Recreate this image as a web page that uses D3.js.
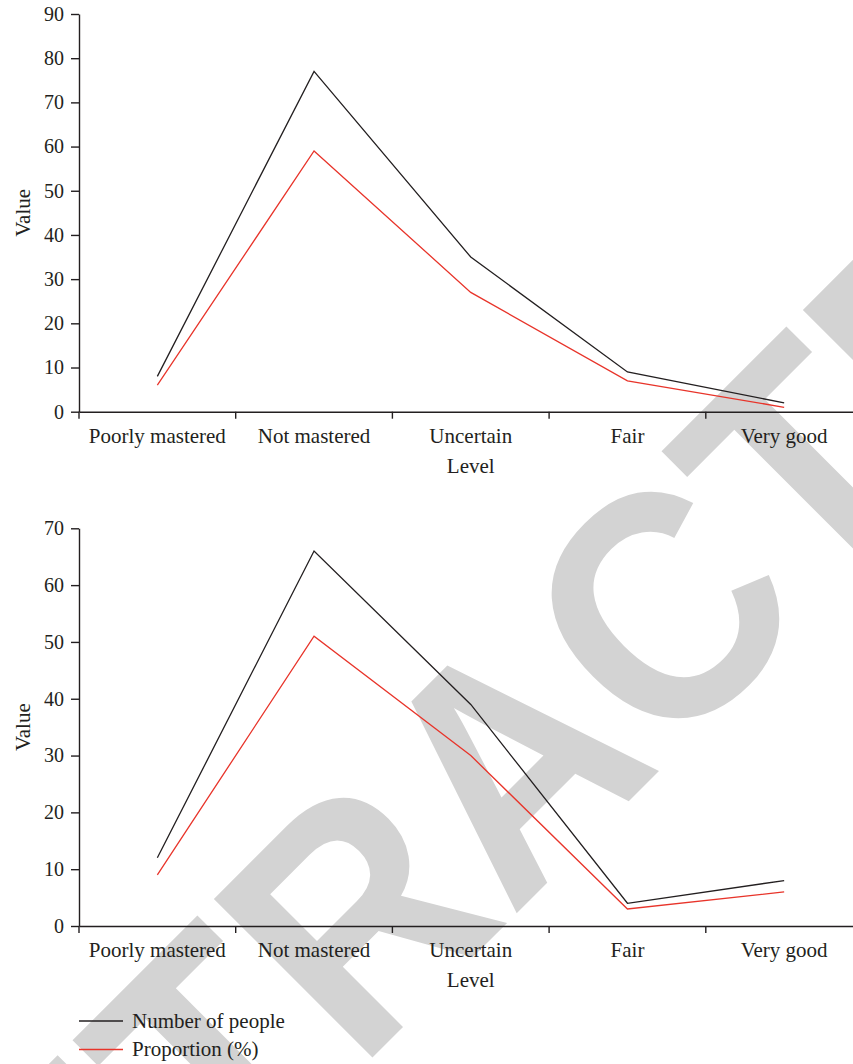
<!DOCTYPE html>
<html>
<head>
<meta charset="utf-8">
<script src="https://cdn.jsdelivr.net/npm/d3@7"></script>
<style>
  html, body { margin: 0; padding: 0; background: #fff; }
  svg { display: block; }
</style>
</head>
<body>
<svg id="chart" width="853" height="1064"></svg>
<script>
// Knowledge levels on the x axis
const categories = ["Poorly mastered", "Not mastered", "Uncertain", "Fair", "Very good"];

// Upper panel
const peopleTop = [8, 77, 35, 9, 2];
const proportionTop = [6, 59, 27, 7, 1];
const yTicksTop = [0, 10, 20, 30, 40, 50, 60, 70, 80, 90];

// Lower panel
const peopleBottom = [12, 66, 39, 4, 8];
const proportionBottom = [9, 51, 30, 3, 6];
const yTicksBottom = [0, 10, 20, 30, 40, 50, 60, 70];

const seriesNames = ["Number of people", "Proportion (%)"];
const seriesColors = ["#231f20", "#e8342a"];

const svg = d3.select("#chart");
const FONT = "'Liberation Serif', 'Times New Roman', serif";
const INK = "#231f20";
const WORD_SIZE = 21;
const DIGIT_SIZE = 20;

// Stamp drawn beneath the charts
svg.append("text")
  .attr("transform", "translate(588,842) rotate(-45) scale(0.92,1)")
  .attr("text-anchor", "middle")
  .attr("font-family", "'Liberation Sans', Arial, sans-serif")
  .attr("font-weight", "bold")
  .attr("font-size", 326)
  .attr("fill", "#d3d3d3")
  .text("RETRACTED");

function panel(opts) {
  const { x0, x1, yBottom, yTop, ymax, ticks, people, proportion } = opts;
  const g = svg.append("g");

  const x = d3.scaleBand().domain(categories).range([x0, x1]).padding(0);
  const y = d3.scaleLinear().domain([0, ymax]).range([yBottom, yTop]);

  // y axis
  const yAxis = g.append("g")
    .attr("transform", `translate(${x0},0)`)
    .call(d3.axisLeft(y).tickValues(ticks).tickSize(8).tickSizeOuter(0).tickPadding(7));
  yAxis.select(".domain").attr("stroke", INK).attr("stroke-width", 1.4);
  yAxis.selectAll(".tick line").attr("stroke", INK).attr("stroke-width", 1.4);
  yAxis.selectAll(".tick text")
    .attr("font-family", FONT).attr("font-size", DIGIT_SIZE).attr("fill", INK);

  // x axis: labels at band centres, tick marks at band boundaries
  const xAxis = g.append("g")
    .attr("transform", `translate(0,${yBottom})`)
    .call(d3.axisBottom(x).tickSize(0).tickSizeOuter(0).tickPadding(16));
  xAxis.select(".domain").attr("stroke", INK).attr("stroke-width", 1.4);
  xAxis.selectAll(".tick text")
    .attr("font-family", FONT).attr("font-size", WORD_SIZE).attr("fill", INK);
  xAxis.selectAll("line.band-tick")
    .data(categories)
    .join("line")
    .attr("class", "band-tick")
    .attr("x1", d => x(d)).attr("x2", d => x(d))
    .attr("y1", 0).attr("y2", 7)
    .attr("stroke", INK).attr("stroke-width", 1.4);

  // axis titles
  g.append("text")
    .attr("x", (x0 + x1) / 2)
    .attr("y", yBottom + 61)
    .attr("text-anchor", "middle")
    .attr("font-family", FONT).attr("font-size", WORD_SIZE).attr("fill", INK)
    .text("Level");
  g.append("text")
    .attr("transform", `translate(30,${(yBottom + yTop) / 2}) rotate(-90)`)
    .attr("text-anchor", "middle")
    .attr("font-family", FONT).attr("font-size", WORD_SIZE).attr("fill", INK)
    .text("Value");

  const line = d3.line()
    .x((d, i) => x(categories[i]) + x.bandwidth() / 2)
    .y(d => y(d));

  [people, proportion].forEach((vals, k) => {
    g.append("path")
      .datum(vals)
      .attr("fill", "none")
      .attr("stroke", seriesColors[k])
      .attr("stroke-width", 1.3)
      .attr("d", line);
  });
}

panel({ x0: 79, x1: 862.5, yBottom: 411.7, yTop: 14, ymax: 90, ticks: yTicksTop,
        people: peopleTop, proportion: proportionTop });
panel({ x0: 79, x1: 862.5, yBottom: 926, yTop: 528.3, ymax: 70, ticks: yTicksBottom,
        people: peopleBottom, proportion: proportionBottom });

// Legend
const legend = svg.append("g").attr("transform", "translate(79,1021)");
seriesNames.forEach((name, i) => {
  const row = legend.append("g").attr("transform", `translate(0,${i * 28.5})`);
  row.append("line")
    .attr("x1", 0).attr("x2", 44).attr("y1", 0).attr("y2", 0)
    .attr("stroke", seriesColors[i]).attr("stroke-width", 1.3);
  row.append("text")
    .attr("x", 53).attr("y", 6.5)
    .attr("font-family", FONT).attr("font-size", WORD_SIZE).attr("fill", INK)
    .text(name);
});
</script>
</body>
</html>
